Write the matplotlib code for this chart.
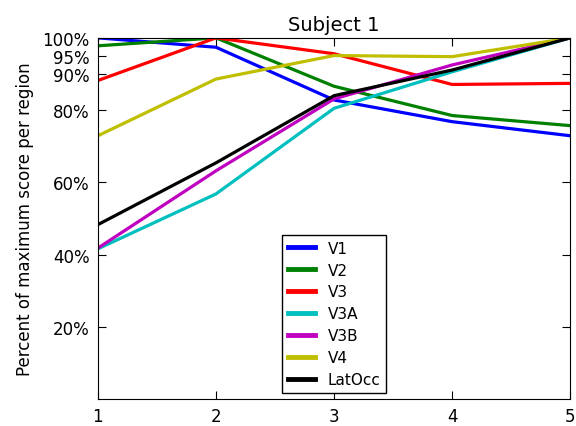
import matplotlib
matplotlib.use("Agg")
import matplotlib.pyplot as plt

x = [1, 2, 3, 4, 5]
series_names = ["V1", "V2", "V3", "V3A", "V3B", "V4", "LatOcc"]
v1 = [1.000, 0.974, 0.828, 0.768, 0.729]
v2 = [0.978, 1.000, 0.866, 0.785, 0.757]
v3 = [0.882, 1.000, 0.956, 0.871, 0.874]
v3a = [0.416, 0.568, 0.805, 0.906, 1.000]
v3b = [0.418, 0.632, 0.831, 0.925, 1.000]
v4 = [0.729, 0.886, 0.951, 0.948, 1.000]
latocc = [0.483, 0.654, 0.840, 0.911, 1.000]
colors = ["#0000ff", "#008000", "#ff0000", "#00bfbf", "#bf00bf", "#bfbf00", "#000000"]

yticks = [0.2, 0.4, 0.6, 0.8, 0.9, 0.95, 1.0]
ytick_labels = ["20%", "40%", "60%", "80%", "90%", "95%", "100%"]
xticks = [1, 2, 3, 4, 5]

fig = plt.figure(figsize=(5.76, 4.27), dpi=100)
ax = fig.add_axes([0.170, 0.063, 0.820, 0.846])
for name, vals, c in zip(series_names, [v1, v2, v3, v3a, v3b, v4, latocc], colors):
    ax.plot(x, vals, color=c, lw=2.3, label=name)

ax.set_xlim(1, 5)
ax.set_ylim(0, 1)
ax.set_xticks(xticks)
ax.set_xticklabels([str(t) for t in xticks])
ax.set_yticks(yticks)
ax.set_yticklabels(ytick_labels)
ax.tick_params(direction="in", length=6, top=True, right=True, labelsize=12, pad=6)
ax.set_title("Subject 1", fontsize=14)
ax.set_ylabel("Percent of maximum score per region", fontsize=12, labelpad=6)
leg = ax.legend(loc="lower center", fontsize=11, handlelength=1.8, fancybox=False,
                framealpha=1, edgecolor="black", borderaxespad=0.4, labelspacing=0.45)
leg.get_frame().set_linewidth(1)
for h in leg.get_lines():
    h.set_linewidth(3.5)
fig.savefig("out.png", dpi=100, facecolor="white")
